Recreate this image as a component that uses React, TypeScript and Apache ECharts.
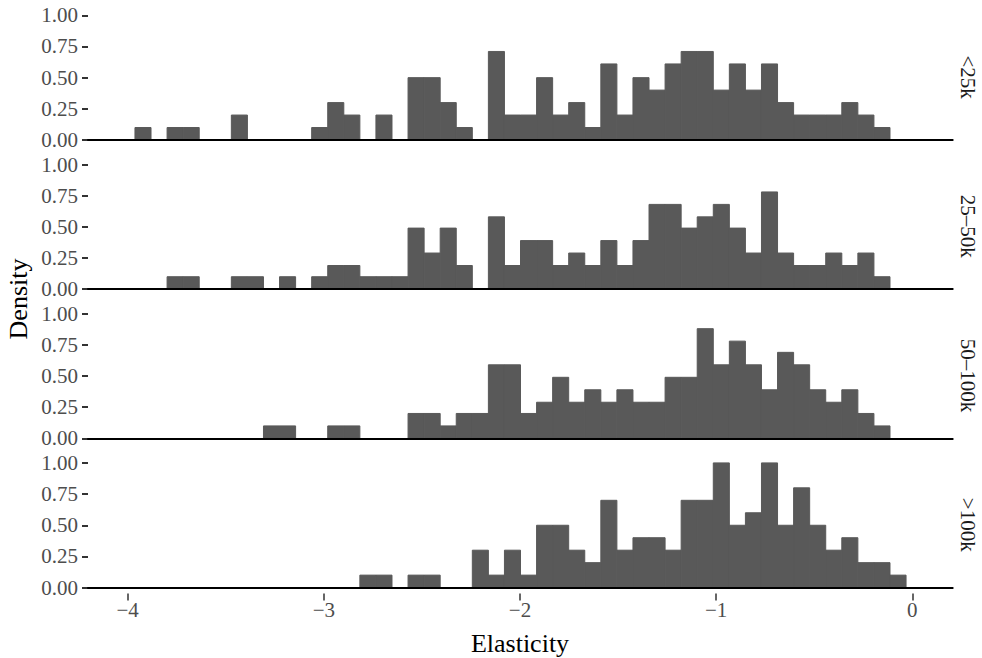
import React, { useEffect, useRef } from "react";
import * as echarts from "echarts";

// Histogram bins (Elasticity)
const BIN_START = -3.963;
const BIN_WIDTH = 0.0819;

const panelLabels = ["<25k", "25\u201350k", "50\u2013100k", ">100k"];

const densLt25k = [
  0.10, 0, 0.10, 0.10, 0, 0, 0.20, 0, 0, 0,
  0, 0.10, 0.30, 0.20, 0, 0.20, 0, 0.50, 0.50, 0.30,
  0.10, 0, 0.71, 0.20, 0.20, 0.50, 0.20, 0.30, 0.10, 0.61,
  0.20, 0.50, 0.40, 0.61, 0.71, 0.71, 0.40, 0.61, 0.40, 0.61,
  0.30, 0.20, 0.20, 0.20, 0.30, 0.20, 0.10, 0,
];
const dens25to50k = [
  0, 0, 0.10, 0.10, 0, 0, 0.10, 0.10, 0, 0.10,
  0, 0.10, 0.19, 0.19, 0.10, 0.10, 0.10, 0.49, 0.29, 0.49,
  0.19, 0, 0.58, 0.19, 0.39, 0.39, 0.19, 0.29, 0.19, 0.39,
  0.19, 0.39, 0.68, 0.68, 0.49, 0.58, 0.68, 0.49, 0.29, 0.78,
  0.29, 0.19, 0.19, 0.29, 0.19, 0.29, 0.10, 0,
];
const dens50to100k = [
  0, 0, 0, 0, 0, 0, 0, 0, 0.10, 0.10,
  0, 0, 0.10, 0.10, 0, 0, 0, 0.20, 0.20, 0.10,
  0.20, 0.20, 0.59, 0.59, 0.20, 0.29, 0.49, 0.29, 0.39, 0.29,
  0.39, 0.29, 0.29, 0.49, 0.49, 0.88, 0.59, 0.78, 0.59, 0.39,
  0.69, 0.59, 0.39, 0.29, 0.39, 0.20, 0.10, 0,
];
const densGt100k = [
  0, 0, 0, 0, 0, 0, 0, 0, 0, 0,
  0, 0, 0, 0, 0.10, 0.10, 0, 0.10, 0.10, 0,
  0, 0.30, 0.10, 0.30, 0.10, 0.50, 0.50, 0.30, 0.20, 0.70,
  0.30, 0.40, 0.40, 0.30, 0.70, 0.70, 1.00, 0.50, 0.60, 1.00,
  0.50, 0.80, 0.50, 0.30, 0.40, 0.20, 0.20, 0.10,
];

const panelData = [densLt25k, dens25to50k, dens50to100k, densGt100k];

const xTicks = [-4, -3, -2, -1, 0];

const X_MIN = -4.2024;
const X_MAX = 0.206;

const FONT = "'Liberation Serif', 'DejaVu Serif', serif";

export default function App() {
  const ref = useRef<HTMLDivElement>(null);

  useEffect(() => {
    if (!ref.current) return;
    const chart = echarts.init(ref.current, undefined, { renderer: "svg" });

    const gridLeft = 88;
    const gridRight = 982 - 952.7;
    const bottoms = [140, 289.2, 438.4, 587.6];
    const panelH = 124.7;

    const grids = bottoms.map((b) => ({
      left: gridLeft,
      right: gridRight,
      top: b - panelH,
      height: panelH,
      containLabel: false,
    }));

    const xAxes: any[] = bottoms.map((_, i) => ({
      type: "value",
      gridIndex: i,
      min: X_MIN,
      max: X_MAX,
      axisLine: { show: true, onZero: false, lineStyle: { color: "#000", width: 2 } },
      axisTick: { show: false },
      axisLabel: { show: false },
      splitLine: { show: false },
      z: 5,
    }));
    // tick/label axis for the bottom panel, offset like ggplot's expanded panel
    xAxes.push({
      type: "value",
      gridIndex: 3,
      position: "bottom",
      offset: 6,
      min: X_MIN,
      max: X_MAX,
      axisLine: { show: false, onZero: false },
      axisTick: {
        show: true,
        length: 7,
        customValues: xTicks,
        lineStyle: { color: "#333333", width: 1.5 },
      },
      axisLabel: {
        show: true,
        customValues: xTicks,
        margin: 6,
        color: "#4d4d4d",
        fontSize: 21,
        fontFamily: FONT,
        formatter: (v: number) => (v === 0 ? "0" : (v < 0 ? "\u2212" : "") + Math.abs(v)),
      },
      splitLine: { show: false },
    });

    const yAxes = bottoms.map((_, i) => ({
      type: "value",
      gridIndex: i,
      position: "left",
      min: 0,
      max: 1,
      interval: 0.25,
      axisLine: { show: false, onZero: false },
      axisTick: {
        show: true,
        length: 6,
        lineStyle: { color: "#333333", width: 2 },
      },
      axisLabel: {
        show: true,
        margin: 10,
        color: "#4d4d4d",
        fontSize: 21,
        fontFamily: FONT,
        formatter: (v: number) => v.toFixed(2),
      },
      splitLine: { show: false },
    }));

    const series = panelData.map((arr, i) => ({
      type: "custom",
      xAxisIndex: i,
      yAxisIndex: i,
      encode: { x: [0, 1], y: 2 },
      data: arr
        .map((d, k) => [BIN_START + k * BIN_WIDTH, BIN_START + (k + 1) * BIN_WIDTH, d])
        .filter((r) => r[2] > 0),
      renderItem: (params: any, api: any) => {
        const p0 = api.coord([api.value(0), api.value(2)]);
        const p1 = api.coord([api.value(1), 0]);
        return {
          type: "rect",
          shape: { x: p0[0], y: p0[1], width: p1[0] - p0[0], height: p1[1] - p0[1] },
          style: { fill: "#595959", stroke: "#595959", lineWidth: 1 },
        };
      },
      z: 1,
    }));

    const graphics: any[] = [
      {
        type: "text",
        x: 18,
        y: 299,
        rotation: Math.PI / 2,
        style: {
          text: "Density",
          fontSize: 26,
          fontFamily: FONT,
          fill: "#000",
          align: "center",
          verticalAlign: "middle",
        },
      },
      {
        type: "text",
        x: 520,
        y: 643,
        style: {
          text: "Elasticity",
          fontSize: 26,
          fontFamily: FONT,
          fill: "#000",
          align: "center",
          verticalAlign: "middle",
        },
      },
    ];
    bottoms.forEach((b, i) => {
      graphics.push({
        type: "text",
        x: 968,
        y: b - panelH / 2 - 0.5,
        rotation: -Math.PI / 2,
        style: {
          text: panelLabels[i],
          fontSize: 21,
          fontFamily: FONT,
          fill: "#1a1a1a",
          align: "center",
          verticalAlign: "middle",
        },
      });
    });

    chart.setOption({
      animation: false,
      backgroundColor: "#fff",
      grid: grids,
      xAxis: xAxes,
      yAxis: yAxes,
      series,
      graphic: graphics,
    });

    return () => chart.dispose();
  }, []);

  return (
    <div
      ref={ref}
      style={{ position: "fixed", left: 0, top: 0, width: 982, height: 658 }}
    />
  );
}
